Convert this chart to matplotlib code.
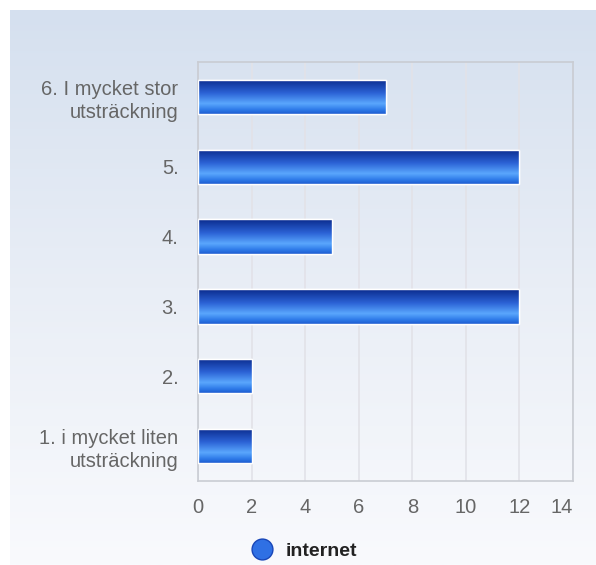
import numpy as np
import matplotlib
matplotlib.use("Agg")
import matplotlib.pyplot as plt
from matplotlib.colors import LinearSegmentedColormap
from matplotlib.lines import Line2D

# data
categories = ["1. i mycket liten\nutsträckning", "2.", "3.", "4.", "5.",
              "6. I mycket stor\nutsträckning"]
values = [2, 2, 12, 5, 12, 7]
series_name = "internet"
xticks = [0, 2, 4, 6, 8, 10, 12, 14]

plt.rcParams['font.family'] = ['Liberation Sans', 'DejaVu Sans']

W, H = 596, 565
fig = plt.figure(figsize=(W / 100, H / 100), dpi=100)

# background panel with vertical gradient
bg = fig.add_axes([10 / W, 0, 1 - 10 / W, 1 - 10 / H])
bg_cmap = LinearSegmentedColormap.from_list("bg", ["#d5e0ef", "#e9eef6", "#f9fafd"])
bg.imshow(np.linspace(0, 1, 256).reshape(-1, 1), aspect="auto", cmap=bg_cmap,
          extent=[0, 1, 0, 1], origin="upper")
bg.set_axis_off()

ax = fig.add_axes([198 / W, 1 - 481 / H, (573 - 198) / W, (481 - 62) / H])
ax.set_facecolor("none")

bar_cmap = LinearSegmentedColormap.from_list(
    "bar", [(0.0, "#1d5bd0"), (0.12, "#2e7ae8"), (0.3, "#5aa7fd"),
            (0.6, "#2c63d6"), (1.0, "#0a2a8c")])

y = np.arange(len(categories))
bars = ax.barh(y, values, height=0.49, color="#2a6ce0", edgecolor="white",
               linewidth=1.0, zorder=3)
grad = np.linspace(0, 1, 256).reshape(-1, 1)
for b in bars:
    x0, y0 = b.get_x(), b.get_y()
    im = ax.imshow(grad, aspect="auto", cmap=bar_cmap, origin="lower",
                   extent=[x0, x0 + b.get_width(), y0, y0 + b.get_height()],
                   zorder=3.5)
    im.set_clip_path(b)
    # redraw edge on top
    ax.add_patch(plt.Rectangle((x0, y0), b.get_width(), b.get_height(),
                               fill=False, edgecolor="white", lw=1.0, zorder=4))

ax.set_xlim(0, 14)
ax.set_ylim(-0.5, len(categories) - 0.5)
ax.set_xticks(xticks)
ax.set_xticklabels([str(t) for t in xticks])
ax.get_xticklabels()[-1].set_horizontalalignment("right")
ax.set_yticks(y)
ax.set_yticklabels(categories, multialignment="right", linespacing=1.25)
ax.tick_params(axis="both", length=0, labelsize=14.5, labelcolor="#666666")
ax.tick_params(axis="x", pad=12)
ax.tick_params(axis="y", pad=14)
ax.grid(axis="x", color="#e2e2e8", linewidth=1.2, zorder=0)
for s in ax.spines.values():
    s.set_color("#c9ccd3")
    s.set_linewidth(1.2)

handle = Line2D([], [], marker="o", linestyle="none", markersize=15,
                markerfacecolor="#2f70e4", markeredgecolor="#1846b8")
leg = fig.legend([handle], [series_name], loc="center",
                 bbox_to_anchor=(300 / W, 1 - 551 / H), frameon=False,
                 handletextpad=0.2, prop={"weight": "bold", "size": 14})
for t in leg.get_texts():
    t.set_color("#222222")

fig.savefig("out.png", dpi=100)
